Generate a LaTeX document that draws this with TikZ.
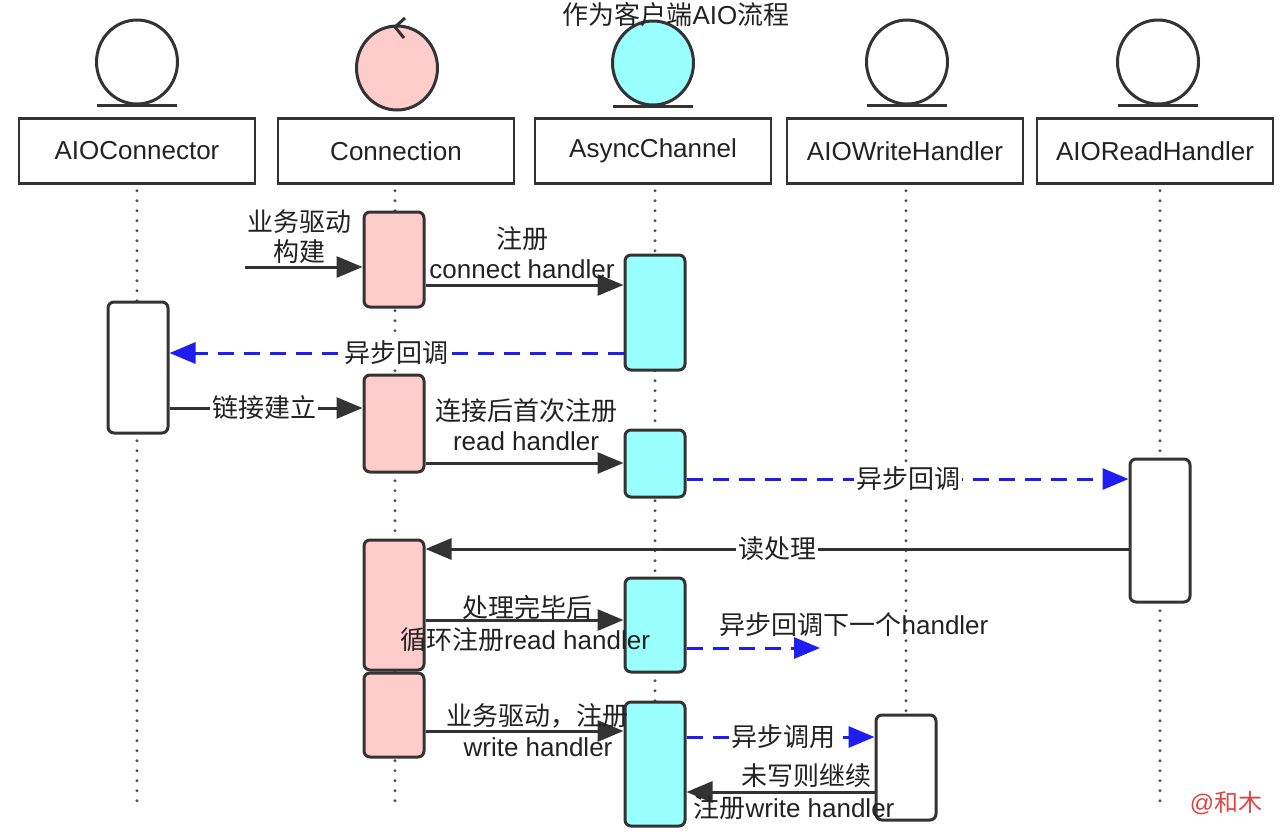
\documentclass[tikz,border=0pt]{standalone}
\usepackage{fontspec}
\setmainfont{Liberation Sans}
\newfontfamily\cjk{Noto Sans CJK SC}
\newcommand\zh[1]{{\cjk #1}}
\usetikzlibrary{arrows.meta,shapes.geometric}
\definecolor{ink}{HTML}{333333}
\definecolor{txt}{HTML}{222222}
\definecolor{pinkf}{HTML}{FFCCCC}
\definecolor{cyanf}{HTML}{99FFFF}
\definecolor{cblue}{HTML}{1E1EF0}
\definecolor{wmred}{HTML}{E04444}
\definecolor{dotc}{HTML}{505050}
\begin{document}
\begin{tikzpicture}[x=0.5pt,y=-0.5pt,
  every node/.style={font=\fontsize{13}{15}\selectfont, text=txt},
  hdr/.style={draw=ink, line width=1.25pt, fill=white, minimum width=118pt, minimum height=32.5pt, inner sep=0pt},
  ent/.style={ellipse, draw=ink, line width=1.5pt, minimum width=40.5pt, minimum height=42pt, inner sep=0pt},
  entbar/.style={draw=ink, line width=1.5pt},
  life/.style={draw=dotc, line width=1.6pt, line cap=round, dash pattern=on 0pt off 5pt},
  act/.style={draw=ink, line width=1.5pt, rounded corners=3pt, minimum width=30pt, inner sep=0pt},
  msg/.style={draw=ink, line width=1.5pt, -{Triangle[length=13pt,width=10.5pt]}},
  amsg/.style={draw=cblue, line width=1.5pt, dash pattern=on 8pt off 5pt, -{Triangle[length=13pt,width=10.5pt,fill=cblue]}},
  lbl/.style={inner sep=1pt, align=center},
  lblw/.style={lbl, fill=white}
]
\useasboundingbox[fill=white] (0,0) rectangle (1284,836);

% entity symbols
\node[ent] (o1) at (137,62) {};
\node[ent, fill=pinkf] (o2) at (397,68) {};
\node[ent, fill=cyanf] (o3) at (653,63) {};
\node[ent] (o4) at (907,62) {};
\node[ent] (o5) at (1158,62) {};
\draw[entbar] (o1.south) ++(-40,0) -- ++(80,0);
\draw[entbar] (o3.south) ++(-40,0) -- ++(80,0);
\draw[entbar] (o4.south) ++(-40,0) -- ++(80,0);
\draw[entbar] (o5.south) ++(-40,0) -- ++(80,0);
\draw[entbar, line join=miter] (405,18) -- (395,27) -- (404,38);

% title
\node[lbl] (title) at (676,15) {\zh{作为客户端}AIO\zh{流程}};

% header boxes
\node[hdr] (h1) at (137,151) {AIOConnector};
\node[hdr] (h2) at (396,151) {Connection};
\node[hdr] (h3) at (653,151) {AsyncChannel};
\node[hdr] (h4) at (905,151) {AIOWriteHandler};
\node[hdr] (h5) at (1155,151) {AIOReadHandler};

% lifelines
\coordinate (e1) at (137,806);
\coordinate (e2) at (395,806);
\coordinate (e3) at (655,828);
\coordinate (e4) at (906,806);
\coordinate (e5) at (1160,806);
\draw[life] (h1.south -| e1) ++(0,6) -- (e1);
\draw[life] (h2.south -| e2) ++(0,6) -- (e2);
\draw[life] (h3.south -| e3) ++(0,6) -- (e3);
\draw[life] (h4.south -| e4) ++(0,6) -- (e4);
\draw[life] (h5.south -| e5) ++(0,6) -- (e5);

% activations
\node[act, fill=white, minimum height=65.5pt] (k1) at (138,367.5) {};
\node[act, fill=pinkf, minimum height=47.5pt] (c1) at (394,259.5) {};
\node[act, fill=pinkf, minimum height=48.5pt] (c2) at (394,423.5) {};
\node[act, fill=pinkf, minimum height=65pt] (c3) at (394,605) {};
\node[act, fill=pinkf, minimum height=42pt] (c4) at (394,715) {};
\node[act, fill=cyanf, minimum height=57.5pt] (s1) at (655,312.5) {};
\node[act, fill=cyanf, minimum height=33.5pt] (s2) at (655,463.5) {};
\node[act, fill=cyanf, minimum height=47pt] (s3) at (655,625) {};
\node[act, fill=cyanf, minimum height=62pt] (s4) at (655,764) {};
\node[act, fill=white, minimum height=52.5pt] (w1) at (906,767.5) {};
\node[act, fill=white, minimum height=71.5pt] (r1) at (1160,530.5) {};

% messages
\coordinate (m1) at (245,267);
\draw[msg] (m1) -- (c1.west |- m1);
\draw[msg] (c1.east |- 0,285) -- (s1.west |- 0,285);
\draw[amsg] (s1.west |- 0,353) -- (k1.east |- 0,353);
\draw[msg] (k1.east |- 0,408) -- (c2.west |- 0,408);
\draw[msg] (c2.east |- 0,463) -- (s2.west |- 0,463);
\draw[amsg] (s2.east |- 0,479) -- (r1.west |- 0,479);
\draw[msg] (r1.west |- 0,549) -- (c3.east |- 0,549);
\draw[msg] (c3.east |- 0,620) -- (s3.west |- 0,620);
\coordinate (m9) at (820,648);
\draw[amsg] (s3.east |- m9) -- (m9);
\draw[msg] (c4.east |- 0,731) -- (s4.west |- 0,731);
\draw[amsg] (s4.east |- 0,737) -- (w1.west |- 0,737);
\draw[msg] (w1.west |- 0,792) -- (s4.east |- 0,792);

% labels
\node[lbl] (l1) at (299,237) {\zh{业务驱动}\\\zh{构建}};
\node[lbl] (l2) at (522,253) {\zh{注册}\\connect handler};
\node[lblw] (l3) at (396,353) {\zh{异步回调}};
\node[lblw] (l4) at (264,408) {\zh{链接建立}};
\node[lbl] (l5) at (526,425) {\zh{连接后首次注册}\\read handler};
\node[lblw] (l6) at (908,479) {\zh{异步回调}};
\node[lblw] (l7) at (777,549) {\zh{读处理}};
\node[lbl] (l8a) at (527,608) {\zh{处理完毕后}};
\node[lbl] (l8b) at (525,640) {\zh{循环注册}read handler};
\node[lbl] (l9) at (854,625) {\zh{异步回调下一个}handler};
\node[lbl] (l10a) at (537,716) {\zh{业务驱动，注册}};
\node[lbl] (l10b) at (538,747) {write handler};
\node[lblw, inner sep=0.5pt] (l11) at (783,737) {\zh{异步调用}};
\node[lbl] (l12a) at (806,776) {\zh{未写则继续}};
\node[lbl] (l12b) at (794,808) {\zh{注册}write handler};

% watermark
\node[lbl, text=wmred, font=\fontsize{12}{14}\selectfont] (wm) at (1226,803) {@\zh{和木}};
\end{tikzpicture}
\end{document}
